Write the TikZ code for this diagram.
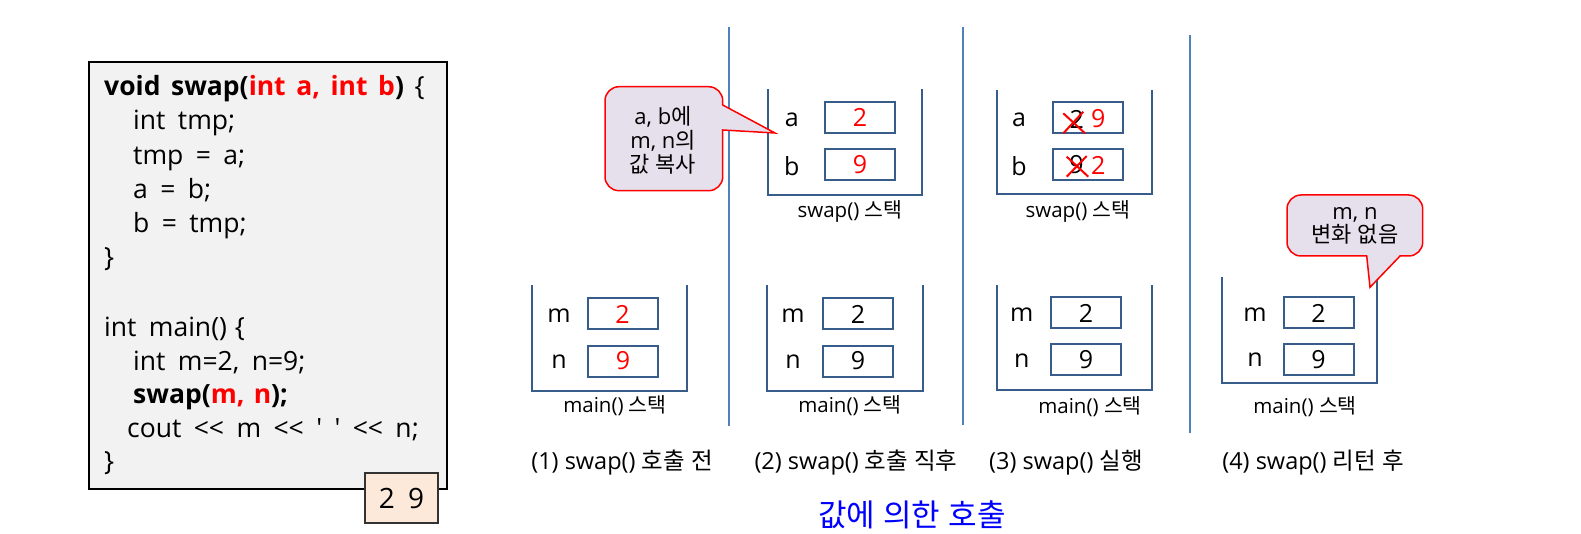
\documentclass[tikz,border=0pt]{standalone}
\usepackage{fontspec}
\setmainfont{Open Sans}
\newfontfamily\kr{Noto Sans CJK KR}
\newfontfamily\codefont[WordSpace=1.8]{Open Sans}
\definecolor{stackblue}{RGB}{56,93,138}
\definecolor{sepblue}{RGB}{79,129,189}
\definecolor{callfill}{RGB}{230,224,236}
\definecolor{codefill}{RGB}{242,242,242}
\definecolor{outfill}{RGB}{253,233,217}
\definecolor{titleblue}{RGB}{0,0,255}
\begin{document}
\begin{tikzpicture}[x=1pt,y=-1pt,
  codeline/.style={anchor=base west,inner sep=0pt,font=\codefont\fontsize{26.5}{30}\selectfont},
  stk/.style={draw=stackblue,line width=2pt},
  cell/.style={draw=stackblue,line width=2pt,minimum width=70pt,minimum height=31pt,inner sep=0pt,font=\fontsize{25}{28}\selectfont},
  var/.style={inner sep=0pt,font=\fontsize{25}{28}\selectfont},
  stklabel/.style={inner sep=0pt,font=\fontsize{20.5}{24}\selectfont},
  caption/.style={inner sep=0pt,font=\fontsize{23.5}{26}\selectfont},
  sepline/.style={draw=sepblue,line width=1.8pt},
  callout/.style={draw=red,fill=callfill,line width=1.5pt,line join=miter},
  calltext/.style={inner sep=0pt,align=center,font=\fontsize{22}{24}\selectfont},
  cross/.style={draw=red,line width=2pt}
]
\useasboundingbox (0,0) rectangle (1581,534);

% ---- code box ----
\node[draw=black,fill=codefill,line width=1.5pt,minimum width=358pt,minimum height=427pt,inner sep=0pt] (code) at (268,275.5) {};
\node[codeline] (c1) at (104,96) {\textbf{void\hspace{0.4em}swap(\textcolor{red}{int\hspace{0.4em}a,\hspace{0.4em}int\hspace{0.4em}b})}\hspace{0.4em}\{};
\node[codeline] (c2) at (133,130) {int tmp;};
\node[codeline] (c3) at (133,164.5) {tmp = a;};
\node[codeline] (c4) at (133,198.5) {a = b;};
\node[codeline] (c5) at (133,232.5) {b = tmp;};
\node[codeline] (c6) at (104,266.5) {\}};
\node[codeline] (c7) at (104,336.5) {int main()\hspace{0.3em}\{};
\node[codeline] (c8) at (133,370.5) {int m=2, n=9;};
\node[codeline] (c9) at (133,403.5) {\textbf{swap(\textcolor{red}{m,\hspace{0.35em}n});}};
\node[codeline] (c10) at (127,437) {cout <{}< m <{}< ' ' <{}< n;};
\node[codeline] (c11) at (104,470.5) {\}};
\node[draw=black!80,fill=outfill,line width=1.5pt,minimum width=73pt,minimum height=50pt,inner sep=0pt,font=\codefont\fontsize{28}{30}\selectfont] (out) at (401.5,498) {2 9};

% ---- separators ----
\coordinate (s1t) at (728.7,27);  \coordinate (s1b) at (728.7,426);
\coordinate (s2t) at (962.7,27);  \coordinate (s2b) at (962.7,425);
\coordinate (s3t) at (1190,35);   \coordinate (s3b) at (1190,433);
\draw[sepline] (s1t) -- (s1b);
\draw[sepline] (s2t) -- (s2b);
\draw[sepline] (s3t) -- (s3b);

% ---- panel 1: main ----
\draw[stk] (531.7,285) -- (531.7,390.7) -- (686.7,390.7) -- (686.7,285);
\node[var] (p1m) at (559,316) {m};
\node[var] (p1n) at (559,362) {n};
\node[cell,text=red] (p1mv) at (622.5,314) {2};
\node[cell,text=red] (p1nv) at (623,361) {9};
\node[stklabel] (p1l) at (615,406) {main() {\kr 스택}};
\node[caption] (cap1) at (622,463) {(1) swap() {\kr 호출} {\kr 전}};

% ---- panel 2: swap ----
\draw[stk] (767.7,89) -- (767.7,194.7) -- (922,194.7) -- (922,89);
\node[var] (p2a) at (791.7,120) {a};
\node[var] (p2b) at (791.7,165.7) {b};
\node[cell,text=red] (p2av) at (860,117.8) {2};
\node[cell,text=red] (p2bv) at (860,164.3) {9};
\node[stklabel] (p2sl) at (850,211.7) {swap() {\kr 스택}};

% ---- panel 2: main ----
\draw[stk] (767,285) -- (767,390.7) -- (923,390.7) -- (923,285);
\node[var] (p2m) at (793,316) {m};
\node[var] (p2n) at (793,362) {n};
\node[cell] (p2mv) at (858,314) {2};
\node[cell] (p2nv) at (858,361) {9};
\node[stklabel] (p2l) at (850,406) {main() {\kr 스택}};
\node[caption] (cap2) at (856,463) {(2) swap() {\kr 호출} {\kr 직후}};

% ---- callout 1 ----
\draw[callout] (664,86.7) -- (708.7,86.7) .. controls (716.4,86.7) and (722.7,93) .. (722.7,100.7)
  -- (722.7,105) -- (775,133) -- (722.7,130)
  -- (722.7,176.7) .. controls (722.7,184.4) and (716.4,190.7) .. (708.7,190.7)
  -- (619,190.7) .. controls (611.3,190.7) and (605,184.4) .. (605,176.7)
  -- (605,100.7) .. controls (605,93) and (611.3,86.7) .. (619,86.7) -- cycle;
\node[calltext] (call1) at (663,140.5) {a, b{\kr 에}\\m, n{\kr 의}\\{\kr 값} {\kr 복사}};

% ---- panel 3: swap ----
\draw[stk] (997,90) -- (997,194) -- (1152,194) -- (1152,90);
\node[var] (p3a) at (1019,120) {a};
\node[var] (p3b) at (1019,165.7) {b};
\node[cell] (p3av) at (1087.5,117.8) {};
\node[cell] (p3bv) at (1087.5,164.3) {};
\node[var] (p3ao) at (1076.7,119) {2};
\node[var,text=red] (p3an) at (1098.3,119) {9};
\node[var] (p3bo) at (1076.5,165) {9};
\node[var,text=red] (p3bn) at (1098.3,165) {2};
\draw[cross] (1063.3,113.3) -- (1085,133.3);
\draw[cross] (1063.3,133.3) -- (1083.3,111.7);
\draw[cross] (1066.7,156.7) -- (1088.3,176.7);
\draw[cross] (1066.7,176.7) -- (1086.7,156);
\node[stklabel] (p3sl) at (1078,211.7) {swap() {\kr 스택}};

% ---- panel 3: main ----
\draw[stk] (997,285) -- (997,390) -- (1152,390) -- (1152,285);
\node[var] (p3m) at (1021.7,315) {m};
\node[var] (p3n) at (1021.7,360.7) {n};
\node[cell] (p3mv) at (1086,313) {2};
\node[cell] (p3nv) at (1086,359.5) {9};
\node[stklabel] (p3l) at (1090,406.7) {main() {\kr 스택}};
\node[caption] (cap3) at (1066,463) {(3) swap() {\kr 실행}};

% ---- panel 4: main ----
\draw[stk] (1221.7,277) -- (1221.7,382.7) -- (1376.7,382.7) -- (1376.7,277);
\node[var] (p4m) at (1255,315) {m};
\node[var] (p4n) at (1255,360) {n};
\node[cell] (p4mv) at (1318.5,313) {2};
\node[cell] (p4nv) at (1318.5,359.5) {9};
\node[stklabel] (p4l) at (1305,406.7) {main() {\kr 스택}};
\node[caption] (cap4) at (1313,463) {(4) swap() {\kr 리턴} {\kr 후}};

% ---- callout 2 ----
\draw[callout] (1355,195) -- (1408.7,195) .. controls (1416.4,195) and (1422.7,201.3) .. (1422.7,209)
  -- (1422.7,242) .. controls (1422.7,249.7) and (1416.4,256) .. (1408.7,256)
  -- (1400,256) -- (1370,287.3) -- (1366.7,256)
  -- (1301,256) .. controls (1293.3,256) and (1287,249.7) .. (1287,242)
  -- (1287,209) .. controls (1287,201.3) and (1293.3,195) .. (1301,195) -- cycle;
\node[calltext,font=\fontsize{22}{23}\selectfont] (call2) at (1355,226) {m, n\\{\kr 변화} {\kr 없음}};

% ---- title ----
\node[inner sep=0pt,text=titleblue,font=\fontsize{31}{33}\selectfont] (title) at (912,515) {{\kr 값에} {\kr 의한} {\kr 호출}};
\end{tikzpicture}
\end{document}
